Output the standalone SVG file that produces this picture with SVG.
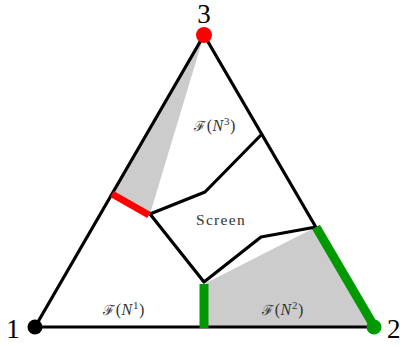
<svg xmlns="http://www.w3.org/2000/svg" width="400" height="347" viewBox="0 0 400 347">
<style>
.edge{stroke:#000;stroke-width:3.2;fill:none;stroke-linejoin:round}
.num{font-family:"Liberation Serif",serif;font-size:27px;fill:#000}
.lbl{font-family:"Liberation Serif","DejaVu Serif",serif;font-size:16px;fill:#333;letter-spacing:0.6px}
.scr{font-family:"Liberation Serif",serif;font-size:15.5px;fill:#333;letter-spacing:1.3px}
.gray{fill:#cccccc}
</style>
<g id="regions">
<polygon class="gray" points="204,35 112,195 150,214"/>
<polygon class="gray" points="206,283 316,227 374,327 204,327"/>
</g>
<g id="connectors">
<polyline class="edge" points="35,327 204,35 374,327 35,327"/>
<polyline class="edge" points="150,214 205,192 262,134"/>
<polyline class="edge" points="150,214 204,282 261,237 316,227"/>
<line x1="112" y1="194" x2="149" y2="215" stroke="#ff0000" stroke-width="7"/>
<line x1="204" y1="284" x2="204" y2="328" stroke="#009900" stroke-width="9"/>
<line x1="316" y1="227" x2="374" y2="326" stroke="#009900" stroke-width="9"/>
</g>
<g id="node3"><circle cx="204" cy="35" r="8" fill="#ff0000"/><text class="num" x="204" y="23" text-anchor="middle">3</text></g>
<g id="node1"><circle cx="35" cy="327" r="7.5" fill="#000"/><text class="num" x="13" y="338" text-anchor="middle">1</text></g>
<g id="node2"><circle cx="374" cy="327" r="7.5" fill="#009900"/><text class="num" x="387" y="338">2</text></g>
<g id="labelN3"><text class="lbl" x="215" y="131" text-anchor="middle"><tspan font-family="DejaVu Serif" font-size="14">ℱ</tspan>(<tspan font-style="italic">N</tspan><tspan font-size="11" dy="-6">3</tspan><tspan dy="6">)</tspan></text></g>
<g id="labelScreen"><text class="scr" x="221" y="225" text-anchor="middle">Screen</text></g>
<g id="labelN1"><text class="lbl" x="124" y="315" text-anchor="middle"><tspan font-family="DejaVu Serif" font-size="14">ℱ</tspan>(<tspan font-style="italic">N</tspan><tspan font-size="11" dy="-6">1</tspan><tspan dy="6">)</tspan></text></g>
<g id="labelN2"><text class="lbl" x="283" y="315" text-anchor="middle"><tspan font-family="DejaVu Serif" font-size="14">ℱ</tspan>(<tspan font-style="italic">N</tspan><tspan font-size="11" dy="-6">2</tspan><tspan dy="6">)</tspan></text></g>
</svg>
